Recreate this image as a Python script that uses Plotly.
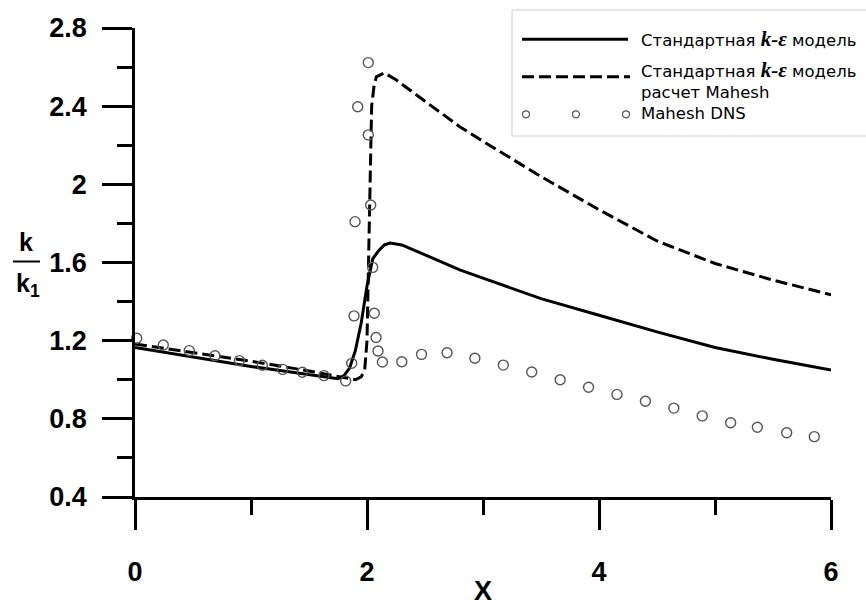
import plotly.graph_objects as go

# ---------------- data ----------------
solid_x = [0, 0.25, 0.5, 0.75, 1.0, 1.25, 1.5, 1.65, 1.75, 1.8, 1.85, 1.9, 1.95, 2.0, 2.05,
           2.1, 2.15, 2.2, 2.3, 2.4, 2.6, 2.8, 3.0, 3.5, 4.0, 4.5, 5.0, 5.5, 6.0]
solid_y = [1.165, 1.14, 1.115, 1.09, 1.068, 1.047, 1.025, 1.01, 1.005, 1.02, 1.06, 1.15, 1.29, 1.48, 1.62,
           1.66, 1.69, 1.70, 1.69, 1.665, 1.615, 1.562, 1.52, 1.415, 1.33, 1.245, 1.165, 1.105, 1.05]

dash_x = [0, 0.5, 1.0, 1.5, 1.75, 1.9, 1.95, 1.98, 2.0, 2.01, 2.02, 2.03, 2.04, 2.06, 2.08, 2.15,
          2.25, 2.5, 2.8, 3.0, 3.5, 4.0, 4.5, 5.0, 5.5, 6.0]
dash_y = [1.183, 1.14, 1.095, 1.045, 1.015, 1.0, 1.015, 1.05, 1.2, 1.5, 1.9, 2.2, 2.4, 2.5, 2.55, 2.57,
          2.535, 2.425, 2.295, 2.22, 2.04, 1.87, 1.71, 1.595, 1.51, 1.435]

dns_x = [0.015, 0.244, 0.468, 0.69, 0.90, 1.098, 1.273, 1.443, 1.629, 1.816, 1.868, 1.888, 1.897,
         1.92, 2.011, 2.011, 2.032, 2.049, 2.063, 2.078, 2.095, 2.133, 2.30, 2.47, 2.69, 2.93,
         3.175, 3.42, 3.665, 3.91, 4.155, 4.40, 4.645, 4.89, 5.135, 5.365, 5.618, 5.856]
dns_y = [1.212, 1.178, 1.149, 1.123, 1.098, 1.074, 1.053, 1.038, 1.021, 0.994, 1.084, 1.327, 1.809,
         2.397, 2.623, 2.253, 1.894, 1.575, 1.34, 1.216, 1.147, 1.091, 1.092, 1.13, 1.138, 1.11,
         1.075, 1.04, 1.0, 0.962, 0.925, 0.89, 0.855, 0.815, 0.78, 0.757, 0.729, 0.709]

x_ticks = [0, 2, 4, 6]
x_tick_labels = ["0", "2", "4", "6"]
x_minor = [1, 3, 5]
y_ticks = [0.4, 0.8, 1.2, 1.6, 2.0, 2.4, 2.8]
y_tick_labels = ["0.4", "0.8", "1.2", "1.6", "2", "2.4", "2.8"]
y_minor = [0.6, 1.0, 1.4, 1.8, 2.2, 2.6]
x_title = "X"

KE = '<span style="font-family:Liberation Serif;font-size:21px"><b><i>k-ε</i></b></span>'
legend_labels = ["Стандартная " + KE + " модель",
                 "Стандартная " + KE + " модель<br>расчет Mahesh",
                 "Mahesh DNS"]

# ---------------- layout geometry ----------------
W, H = 866, 607
L, R, T, B = 135, 35, 28, 110
PW, PH = W - L - R, H - T - B


def px(xp):
    return (xp - L) / PW


def py(yp):
    return (H - B - yp) / PH


SANS = "Liberation Sans"
GRAY = "#555555"

fig = go.Figure()
fig.add_trace(go.Scatter(x=solid_x, y=solid_y, mode="lines", showlegend=False,
                         line=dict(color="black", width=3)))
fig.add_trace(go.Scatter(x=dash_x, y=dash_y, mode="lines", showlegend=False,
                         line=dict(color="black", width=3, dash="12px,5px")))
fig.add_trace(go.Scatter(x=dns_x, y=dns_y, mode="markers", showlegend=False, cliponaxis=False,
                         marker=dict(symbol="circle-open", size=10, color=GRAY,
                                     line=dict(color=GRAY, width=1.4))))

tickfont = dict(family=SANS, size=27, color="black", weight="bold")

fig.update_xaxes(range=[0, 6], tickvals=x_ticks, ticktext=x_tick_labels,
                 ticks="outside", ticklen=30, tickwidth=2.5, tickcolor="black",
                 showline=True, linewidth=2.5, linecolor="black",
                 showgrid=False, zeroline=False, tickfont=tickfont, ticklabelstandoff=19,
                 minor=dict(tickvals=x_minor, ticks="outside", ticklen=15, tickwidth=2.5,
                            tickcolor="black", showgrid=False))
fig.update_yaxes(range=[0.4, 2.8], tickvals=y_ticks, ticktext=y_tick_labels,
                 ticks="outside", ticklen=30, tickwidth=2.5, tickcolor="black",
                 showline=True, linewidth=2.5, linecolor="black",
                 showgrid=False, zeroline=False, tickfont=tickfont, ticklabelstandoff=10,
                 minor=dict(tickvals=y_minor, ticks="outside", ticklen=15, tickwidth=2.5,
                            tickcolor="black", showgrid=False))

shapes = []
annotations = []

# x-axis title
annotations.append(dict(text=x_title, x=0.5, y=py(591), xref="paper", yref="paper",
                        showarrow=False, font=tickfont, xanchor="center", yanchor="middle"))

# y-axis label k / k1 as a fraction
lab_font = dict(family=SANS, size=25, color="black", weight="bold")
annotations.append(dict(text="k", x=px(26), y=py(242), xref="paper", yref="paper",
                        showarrow=False, font=lab_font, xanchor="center", yanchor="middle"))
annotations.append(dict(text="k<sub>1</sub>", x=px(28), y=py(285), xref="paper", yref="paper",
                        showarrow=False, font=lab_font, xanchor="center", yanchor="middle"))
shapes.append(dict(type="line", xref="paper", yref="paper", x0=px(13), x1=px(40),
                   y0=py(261.5), y1=py(261.5), line=dict(color="black", width=2)))

# custom legend
shapes.append(dict(type="rect", xref="paper", yref="paper", x0=px(512), x1=px(872),
                   y0=py(10), y1=py(136), line=dict(color="#d0d0d0", width=1),
                   fillcolor="white", layer="below"))
shapes.append(dict(type="line", xref="paper", yref="paper", x0=px(522), x1=px(628),
                   y0=py(39.3), y1=py(39.3), line=dict(color="black", width=3)))
shapes.append(dict(type="line", xref="paper", yref="paper", x0=px(522), x1=px(630),
                   y0=py(76.7), y1=py(76.7), line=dict(color="black", width=3, dash="12px,5px")))
for cx in (526, 576, 626):
    shapes.append(dict(type="circle", xref="paper", yref="paper", xsizemode="pixel",
                       ysizemode="pixel", xanchor=px(cx), yanchor=py(114.3),
                       x0=-3.5, x1=3.5, y0=-3.5, y1=3.5, line=dict(color=GRAY, width=1.2)))

leg_font = dict(family="DejaVu Sans", size=16.5, color="black")
for text, yc in zip(legend_labels, (39.3, 80, 114)):
    annotations.append(dict(text=text, x=px(639), y=py(yc), xref="paper", yref="paper",
                            showarrow=False, font=leg_font, xanchor="left", yanchor="middle",
                            align="left"))

fig.update_layout(width=W, height=H, margin=dict(l=L, r=R, t=T, b=B, autoexpand=False),
                  paper_bgcolor="white", plot_bgcolor="white",
                  shapes=shapes, annotations=annotations, showlegend=False)

fig.write_html("out.html")
